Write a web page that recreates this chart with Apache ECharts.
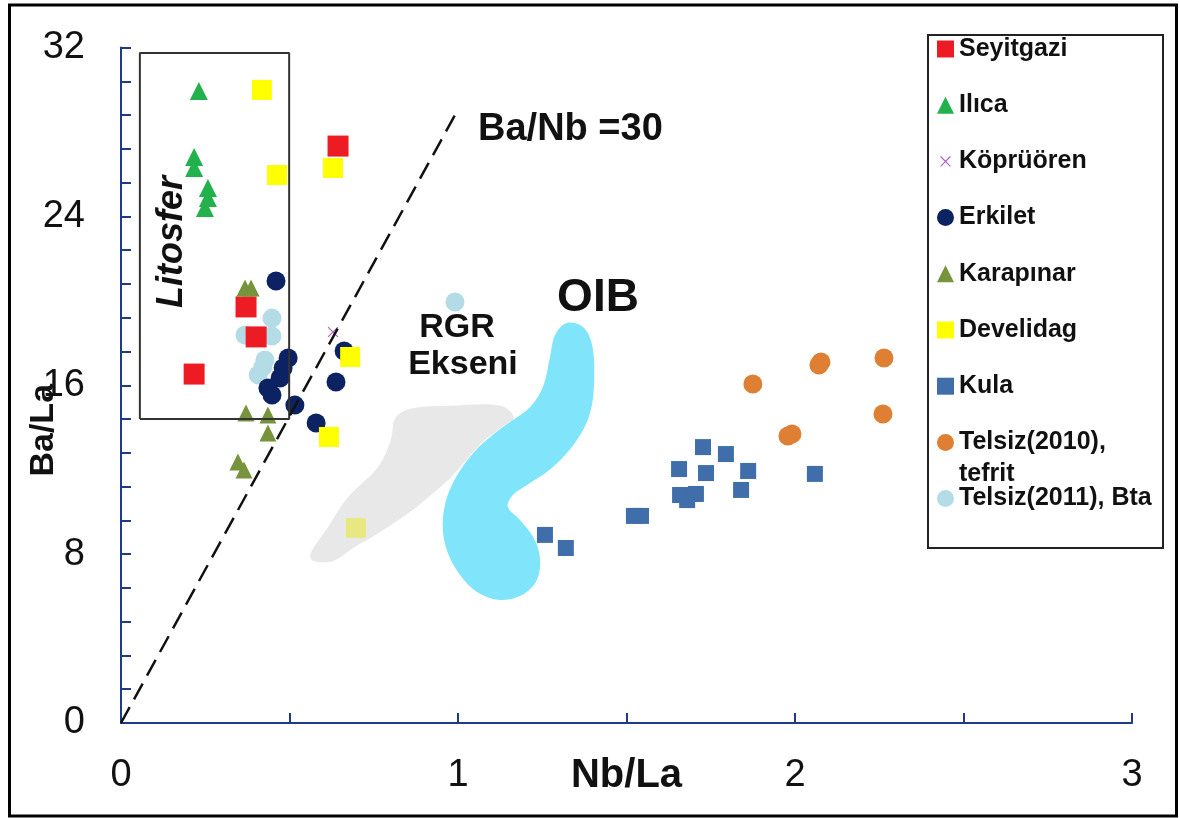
<!DOCTYPE html>
<html>
<head>
<meta charset="utf-8">
<title>Ba/La - Nb/La</title>
<script src="https://cdn.jsdelivr.net/npm/echarts@6.0.0/dist/echarts.min.js"></script>
<style>
    html, body { margin: 0; padding: 0; background: #fff; }
    #box1 { width: 1180px; height: 818px; }
</style>
</head>
<body>
<div id="box1"></div>
<script>
// [Nb/La, Ba/La]
var seyitgazi = [[0.644, 27.33], [0.371, 19.71], [0.401, 18.29], [0.217, 16.53]];
var ilica = [[0.231, 29.94], [0.217, 26.81], [0.217, 26.29], [0.258, 25.34], [0.258, 24.87], [0.249, 24.40]];
var koprukoren = [[0.629, 18.52]];
var erkilet = [[0.460, 20.94], [0.496, 17.29], [0.481, 16.82], [0.472, 16.34], [0.436, 15.87],
    [0.448, 15.54], [0.516, 15.06], [0.579, 14.21], [0.662, 17.62], [0.638, 16.15]];
var karapinar = [[0.368, 20.61], [0.386, 20.61], [0.371, 14.69], [0.436, 14.59], [0.436, 13.74],
    [0.347, 12.36], [0.365, 11.98]];
var develidag = [[0.418, 29.99], [0.463, 25.96], [0.629, 26.29], [0.680, 17.34], [0.617, 13.55], [0.697, 9.24]];
var kula = [[1.258, 8.91], [1.320, 8.29], [1.522, 9.81], [1.543, 9.81], [1.656, 12.03], [1.727, 13.07],
    [1.795, 12.74], [1.736, 11.84], [1.861, 11.94], [1.659, 10.80], [1.680, 10.56], [1.706, 10.85],
    [1.840, 11.04], [2.059, 11.80]];
var telsiz2010 = [[1.875, 16.06], [2.071, 16.96], [2.077, 17.10], [2.264, 17.29], [2.261, 14.64],
    [1.979, 13.60], [1.991, 13.69]];
var telsiz2011 = [[0.448, 19.18], [0.368, 18.38], [0.448, 18.33], [0.427, 17.20], [0.407, 16.49],
    [0.421, 16.86], [0.991, 19.94]];

// Ba/Nb = 30 line, Litosfer box, RGR and OIB fields
var baNbLine = [[0, 0], [0.991, 28.8]];
var litosferBox = [[0.056, 14.4], [0.499, 14.4], [0.499, 31.74], [0.056, 31.74], [0.056, 14.4]];
var rgrField = [[0.562, 8.01], [0.613, 9.25], [0.672, 10.67], [0.761, 12.09], [0.800, 13.37], [0.815, 14.46],
    [0.859, 14.89], [0.978, 15.03], [1.127, 15.03], [1.166, 14.46], [1.127, 13.99], [1.068, 13.23],
    [0.978, 11.62], [0.910, 10.67], [0.850, 9.91], [0.761, 8.96], [0.690, 8.30], [0.630, 7.68], [0.571, 7.68]];
var oibField = [[1.323, 18.95], [1.371, 18.76], [1.398, 17.91], [1.404, 16.25], [1.392, 14.69], [1.353, 13.41],
    [1.282, 12.13], [1.214, 11.37], [1.163, 10.80], [1.148, 10.23], [1.184, 9.62], [1.223, 8.81],
    [1.243, 7.86], [1.234, 6.77], [1.190, 6.06], [1.125, 5.83], [1.056, 6.21], [1.006, 7.01],
    [0.970, 8.05], [0.955, 9.14], [0.961, 10.33], [0.982, 11.27], [1.015, 12.17], [1.059, 13.03],
    [1.110, 13.74], [1.163, 14.35], [1.214, 14.97], [1.252, 15.92], [1.273, 17.34], [1.288, 18.38]];

var xTicks = [0, 1, 2, 3];
var yTicks = [0, 8, 16, 24, 32];

var font = '"Liberation Sans", Arial, sans-serif';
var axisColor = '#1f3a86';

function fieldRender(points, fill, opacity) {
    return function (params, api) {
        var pts = [];
        for (var i = 0; i < points.length; i++) {
            pts.push(api.coord(points[i]));
        }
        return {
            type: 'polygon',
            shape: {points: pts, smooth: 0.35},
            style: {fill: fill, opacity: opacity}
        };
    };
}

var myChart = echarts.init(document.getElementById('box1'));

// small "x" with empty margin around it
var crossPath = 'path://M-6,-6 M26,26 M0,1.5 L1.5,0 L10,8.5 L18.5,0 L20,1.5 L11.5,10 L20,18.5 L18.5,20 L10,11.5 L1.5,20 L0,18.5 L8.5,10 Z';

option = {
    backgroundColor: '#fff',
    animation: false,
    textStyle: {fontFamily: font},
    grid: {left: 121, right: 48, top: 47.5, bottom: 95, outerBoundsMode: 'none', containLabel: false},
    xAxis: {
        type: 'value',
        min: xTicks[0],
        max: xTicks[xTicks.length - 1],
        interval: 1,
        name: 'Nb/La',
        nameLocation: 'middle',
        nameGap: 33,
        nameMoveOverlap: false,
        nameTextStyle: {fontSize: 40, fontWeight: 'bold', color: '#111', fontFamily: font},
        axisLine: {lineStyle: {color: axisColor, width: 2}},
        axisTick: {inside: true, length: 10, lineStyle: {color: axisColor, width: 2}},
        minorTick: {show: true, splitNumber: 2, length: 10, lineStyle: {color: axisColor, width: 2}},
        splitLine: {show: false},
        axisLabel: {fontSize: 38, color: '#111', margin: 34, fontFamily: font}
    },
    yAxis: {
        type: 'value',
        min: yTicks[0],
        max: yTicks[yTicks.length - 1],
        interval: 8,
        name: 'Ba/La',
        nameLocation: 'middle',
        nameGap: 60,
        nameRotate: 90,
        nameMoveOverlap: false,
        nameTextStyle: {fontSize: 34, fontWeight: 'bold', color: '#111', fontFamily: font, padding: [0, 90, 0, 0]},
        axisLine: {lineStyle: {color: axisColor, width: 2}},
        axisTick: {inside: true, length: 10, lineStyle: {color: axisColor, width: 2}},
        minorTick: {show: true, splitNumber: 5, length: 10, lineStyle: {color: axisColor, width: 2}},
        splitLine: {show: false},
        axisLabel: {fontSize: 38, color: '#111', margin: 36, fontFamily: font}
    },
    legend: {
        orient: 'vertical',
        left: 937,
        top: 36,
        padding: 0,
        itemWidth: 17,
        itemHeight: 17,
        itemGap: 30.2,
        selectedMode: false,
        data: ['Seyitgazi', 'Ilıca', 'Köprüören', 'Erkilet', 'Karapınar', 'Develidag', 'Kula',
            'Telsiz(2010), tefrit', 'Telsiz(2011), Bta'],
        formatter: function (name) {
            return name == 'Telsiz(2010), tefrit' ? 'Telsiz(2010),' : name;
        },
        textStyle: {fontSize: 25, fontWeight: 'bold', color: '#111', lineHeight: 26, fontFamily: font}
    },
    graphic: [
        {type: 'rect', shape: {x: 9.5, y: 5, width: 1167, height: 811}, style: {fill: 'none', stroke: '#000', lineWidth: 3}, z: 100},
        {type: 'rect', shape: {x: 928, y: 35, width: 235, height: 513}, style: {fill: 'none', stroke: '#222', lineWidth: 2}, z: 100},
        {type: 'text', x: 959, y: 474, style: {text: 'tefrit', font: 'bold 25px ' + font, fill: '#111', verticalAlign: 'middle'}, z: 100},
        {type: 'text', x: 478, y: 130, style: {text: 'Ba/Nb =30', font: 'bold 38px ' + font, fill: '#111', verticalAlign: 'middle'}, z: 100},
        {type: 'text', x: 457, y: 328, style: {text: 'RGR', font: 'bold 34px ' + font, fill: '#111', align: 'center', verticalAlign: 'middle'}, z: 100},
        {type: 'text', x: 463, y: 365, style: {text: 'Ekseni', font: 'bold 34px ' + font, fill: '#111', align: 'center', verticalAlign: 'middle'}, z: 100},
        {type: 'text', x: 598, y: 298, style: {text: 'OIB', font: 'bold 46px ' + font, fill: '#111', align: 'center', verticalAlign: 'middle'}, z: 100},
        {type: 'text', x: 172, y: 242, rotation: Math.PI / 2, style: {text: 'Litosfer', font: 'italic bold 36px ' + font, fill: '#111', align: 'center', verticalAlign: 'middle'}, z: 100}
    ],
    series: [
        {
            type: 'custom',
            renderItem: fieldRender(oibField, '#80e5fa', 1),
            data: [0],
            z: 1,
            silent: true
        },
        {
            name: 'Telsiz(2011), Bta',
            type: 'scatter',
            symbol: 'circle',
            symbolSize: 19,
            itemStyle: {color: '#b4dce6', opacity: 1},
            data: telsiz2011
        },
        {
            name: 'Seyitgazi',
            type: 'scatter',
            symbol: 'rect',
            symbolSize: 21,
            itemStyle: {color: '#ed1c24', opacity: 1},
            data: seyitgazi
        },
        {
            name: 'Ilıca',
            type: 'scatter',
            symbol: 'triangle',
            symbolSize: 18,
            itemStyle: {color: '#22b14c', opacity: 1},
            data: ilica
        },
        {
            name: 'Köprüören',
            type: 'scatter',
            symbol: crossPath,
            symbolSize: 17,
            itemStyle: {color: '#b05cc4', opacity: 1},
            data: koprukoren
        },
        {
            name: 'Erkilet',
            type: 'scatter',
            symbol: 'circle',
            symbolSize: 19,
            itemStyle: {color: '#0c2262', opacity: 1},
            data: erkilet
        },
        {
            name: 'Karapınar',
            type: 'scatter',
            symbol: 'triangle',
            symbolSize: 17,
            itemStyle: {color: '#77933c', opacity: 1},
            data: karapinar
        },
        {
            name: 'Develidag',
            type: 'scatter',
            symbol: 'rect',
            symbolSize: 20,
            itemStyle: {color: '#ffff00', opacity: 1},
            data: develidag
        },
        {
            name: 'Kula',
            type: 'scatter',
            symbol: 'rect',
            symbolSize: 16,
            itemStyle: {color: '#3f6eaa', opacity: 1},
            data: kula
        },
        {
            name: 'Telsiz(2010), tefrit',
            type: 'scatter',
            symbol: 'circle',
            symbolSize: 19,
            itemStyle: {color: '#df7f33', opacity: 1},
            data: telsiz2010
        },
        {
            type: 'custom',
            renderItem: fieldRender(rgrField, '#d8d8d8', 0.6),
            data: [0],
            z: 3,
            silent: true
        },
        {
            type: 'line',
            data: litosferBox,
            symbol: 'none',
            lineStyle: {color: '#333', width: 2},
            z: 4,
            silent: true
        },
        {
            type: 'line',
            data: baNbLine,
            symbol: 'none',
            lineStyle: {color: '#111', width: 2.5, type: [18, 9]},
            z: 4,
            silent: true
        }
    ]
};

myChart.setOption(option);
</script>
</body>
</html>
